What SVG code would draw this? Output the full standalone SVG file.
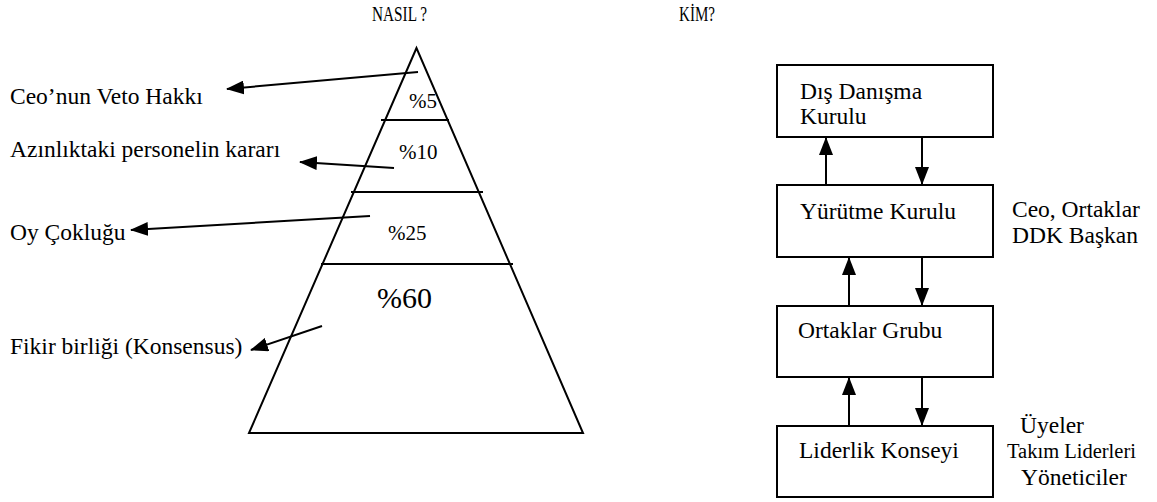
<svg xmlns="http://www.w3.org/2000/svg" width="1157" height="502" viewBox="0 0 1157 502">
  <style>
    text { font-family: "Liberation Serif", "Times New Roman", serif; fill: #000; }
    .lbl { font-size: 23.5px; }
    .title { font-size: 21px; }
    .pct { font-size: 21px; }
    .edge { stroke: #000; stroke-width: 2; fill: none; }
    .box { stroke: #000; stroke-width: 2; fill: #fff; }
    .shape { stroke: #000; stroke-width: 2; fill: none; }
  </style>
  <defs>
    <marker id="head" viewBox="0 0 18 14" refX="17" refY="7" markerWidth="18" markerHeight="14" markerUnits="userSpaceOnUse" orient="auto">
      <path d="M0,0 L18,7 L0,14 Z" fill="#000"/>
    </marker>
  </defs>
  <rect width="1157" height="502" fill="#fff"/>

  <!-- column headings (condensed) -->
  <text class="title" x="372" y="21" textLength="55" lengthAdjust="spacingAndGlyphs">NASIL ?</text>
  <text class="title" x="679" y="21" textLength="36" lengthAdjust="spacingAndGlyphs">KİM?</text>

  <!-- decision pyramid -->
  <g id="pyramid">
    <path class="shape" d="M416.5,48 L249,433 L583,433 Z"/>
    <line class="shape" x1="381" y1="120" x2="449" y2="120"/>
    <line class="shape" x1="351" y1="192" x2="483" y2="192"/>
    <line class="shape" x1="321" y1="264" x2="513" y2="264"/>
    <text class="pct" x="409" y="108">%5</text>
    <text class="pct" x="399" y="159">%10</text>
    <text class="pct" x="388" y="240">%25</text>
    <text x="377" y="308" style="font-size:30px">%60</text>
  </g>

  <!-- decision types -->
  <g id="veto"><text class="lbl" x="10" y="104">Ceo’nun Veto Hakkı</text></g>
  <g id="minority"><text class="lbl" x="10" y="157">Azınlıktaki personelin kararı</text></g>
  <g id="majority"><text class="lbl" x="10" y="240">Oy Çokluğu</text></g>
  <g id="consensus"><text class="lbl" x="10" y="354">Fikir birliği (Konsensus)</text></g>

  <!-- who: boxes -->
  <g id="ddk">
    <rect class="box" x="777" y="65" width="216" height="72"/>
    <text class="lbl" x="800" y="99">Dış Danışma</text>
    <text class="lbl" x="800" y="124">Kurulu</text>
  </g>
  <g id="yurutme">
    <rect class="box" x="777" y="185" width="216" height="72"/>
    <text class="lbl" x="800" y="219">Yürütme Kurulu</text>
  </g>
  <g id="ortaklar">
    <rect class="box" x="777" y="306" width="216" height="71"/>
    <text class="lbl" x="798" y="338">Ortaklar Grubu</text>
  </g>
  <g id="liderlik">
    <rect class="box" x="777" y="426" width="216" height="71"/>
    <text class="lbl" x="799" y="458">Liderlik Konseyi</text>
  </g>

  <!-- side notes -->
  <g id="yurutme-members">
    <text class="lbl" x="1012" y="217">Ceo, Ortaklar</text>
    <text class="lbl" x="1012" y="243">DDK Başkan</text>
  </g>
  <g id="liderlik-members">
    <text class="lbl" x="1020" y="433">Üyeler</text>
    <text x="1007" y="458" style="font-size:20.5px">Takım Liderleri</text>
    <text class="lbl" x="1021" y="485">Yöneticiler</text>
  </g>

  <!-- connectors -->
  <g id="connectors">
    <line class="edge" x1="418" y1="72" x2="227" y2="89" marker-end="url(#head)"/>
    <line class="edge" x1="394" y1="168" x2="300" y2="162" marker-end="url(#head)"/>
    <line class="edge" x1="370" y1="216" x2="131" y2="230" marker-end="url(#head)"/>
    <line class="edge" x1="322" y1="326" x2="251" y2="350" marker-end="url(#head)"/>

    <line class="edge" x1="826" y1="185" x2="826" y2="138" marker-end="url(#head)"/>
    <line class="edge" x1="922" y1="137" x2="922" y2="184" marker-end="url(#head)"/>
    <line class="edge" x1="849" y1="306" x2="849" y2="258" marker-end="url(#head)"/>
    <line class="edge" x1="922" y1="257" x2="922" y2="305" marker-end="url(#head)"/>
    <line class="edge" x1="849" y1="426" x2="849" y2="378" marker-end="url(#head)"/>
    <line class="edge" x1="922" y1="377" x2="922" y2="425" marker-end="url(#head)"/>
  </g>
</svg>
